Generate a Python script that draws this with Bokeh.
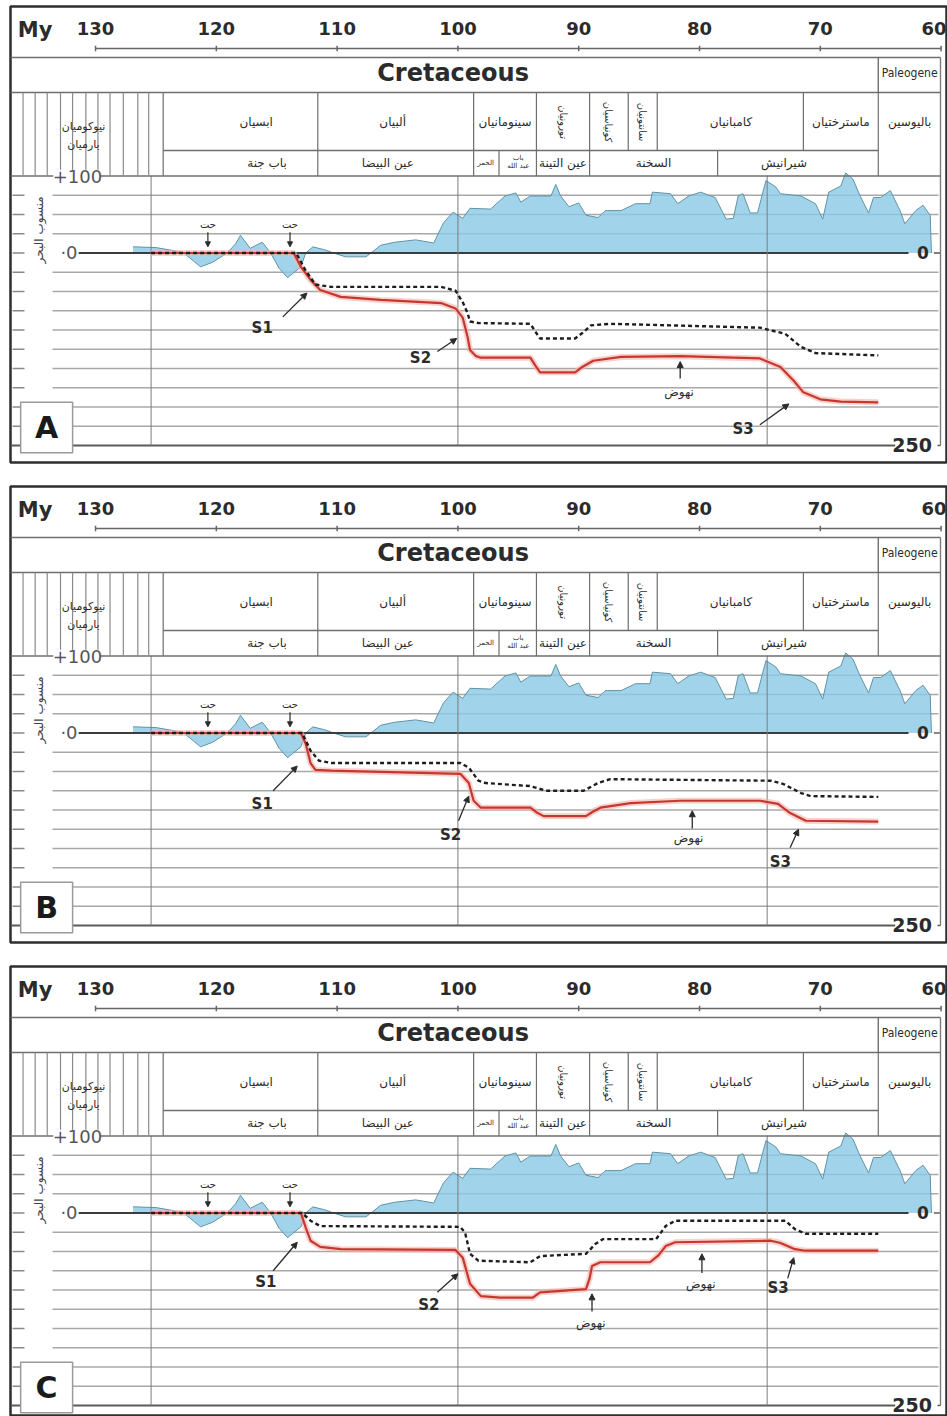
import math
from bokeh.plotting import figure
from bokeh.layouts import column
from bokeh.models import Arrow, NormalHead
from bokeh.embed import file_html
from bokeh.resources import INLINE
from bokeh.core.properties import value

# ---------------- data ----------------
AGE_TICKS = [130, 120, 110, 100, 90, 80, 70, 60]
TICK_LABELS = ["130", "120", "110", "100", "90", "80", "70", "60"]
GRID_LEVELS = [75, 50, 25, -25, -50, -75, -100, -125, -150, -175, -200, -225]

# eustatic sea-level curve (m), same in every panel
SEA_AGE = [126.9, 125.0, 123.5, 122.7, 121.3, 120.3, 119.1, 118.4, 118.0, 117.2, 116.2, 115.5,
           114.8, 114.1, 113.0, 112.6, 112.0, 111.0, 110.3, 109.3, 107.6, 106.4, 105.2, 103.5,
           102.0, 101.2, 100.4, 99.6, 99.0, 97.3, 96.1, 95.2, 94.8, 94.0, 92.3, 91.9, 91.5, 90.8,
           90.0, 89.4, 88.4, 87.8, 86.5, 85.3, 84.1, 83.9, 82.4, 81.8, 80.9, 79.9, 78.7, 77.8,
           77.2, 76.8, 76.4, 75.8, 75.2, 74.5, 73.7, 73.3, 71.6, 70.4, 69.8, 69.3, 68.3, 67.9,
           67.3, 66.7, 66.0, 65.6, 65.0, 64.2, 63.4, 63.0, 62.1, 61.5, 60.9, 60.8]
SEA_LEVEL = [8, 7, 3, 0, -18, -12, 0, 12, 23, 6, 14, 0,
             -20, -32, -18, 0, 8, 4, 0, -5, -5, 10, 14, 17,
             13, 39, 53, 45, 58, 57, 74, 78, 66, 74, 74, 89, 74, 60,
             65, 49, 46, 55, 55, 64, 64, 79, 77, 64, 74, 79, 72, 44,
             45, 74, 77, 52, 52, 94, 86, 77, 74, 64, 44, 79, 87, 104,
             96, 74, 52, 72, 72, 81, 55, 38, 55, 62, 49, 0]

# panel A
RED_A_AGE = [125.4, 113.6, 113.0, 112.2, 111.4, 109.7, 106.4, 101.4, 100.2, 99.6, 99.2, 99.0, 98.5,
             98.1, 94.0, 93.6, 93.2, 90.3, 89.7, 88.8, 86.5, 81.6, 75.0, 73.3, 72.2, 71.4, 70.0,
             68.3, 65.2]
RED_A_VAL = [0, 0, -18, -35, -48, -57, -61, -65, -72, -84, -109, -126, -134,
             -136, -136, -146, -155, -155, -148, -140, -135, -134, -137, -148, -166, -181, -190,
             -193, -194]
DASH_A_AGE = [125.4, 113.4, 112.6, 111.8, 110.5, 101.4, 100.2, 99.6, 99.2, 99.0, 98.3, 94.0, 93.6,
              93.2, 90.3, 89.7, 89.0, 87.4, 75.0, 72.9, 71.6, 70.4, 65.2]
DASH_A_VAL = [0, 0, -23, -41, -44, -44, -49, -64, -78, -89, -91, -92, -102,
              -111, -111, -104, -94, -92, -97, -105, -122, -130, -133]
# panel B
RED_B_AGE = [125.4, 113.0, 112.6, 112.2, 111.8, 110.5, 99.8, 99.1, 98.7, 98.1, 94.0, 93.4, 92.9,
             89.4, 88.8, 88.2, 85.7, 81.6, 75.0, 73.5, 72.5, 71.2, 65.2]
RED_B_VAL = [0, 0, -14, -39, -48, -49, -53, -65, -88, -97, -97, -104, -108,
             -108, -102, -97, -91, -88, -88, -92, -104, -114, -115]
DASH_B_AGE = [125.4, 112.9, 112.2, 111.5, 110.5, 99.8, 99.1, 98.3, 97.7, 94.0, 92.7, 89.6, 88.4,
              87.4, 74.1, 73.1, 71.6, 70.8, 65.2]
DASH_B_VAL = [0, 0, -23, -36, -39, -39, -45, -62, -65, -69, -75, -75, -65,
              -60, -62, -66, -78, -82, -83]
# panel C
RED_C_AGE = [125.4, 113.0, 112.6, 112.2, 111.4, 109.7, 100.2, 99.6, 99.0, 98.1, 96.5, 93.8, 93.2,
             89.4, 89.1, 88.9, 88.2, 84.1, 83.4, 82.8, 82.0, 74.1, 73.3, 72.1, 71.2, 65.2]
RED_C_VAL = [0, 0, -19, -36, -44, -47, -48, -58, -92, -108, -110, -110, -103,
             -99, -85, -69, -64, -64, -55, -43, -38, -36, -39, -47, -49, -49]
DASH_C_AGE = [125.4, 112.9, 112.2, 111.4, 99.8, 99.4, 99.0, 98.3, 94.0, 93.2, 89.4, 88.6, 88.0,
              83.6, 82.8, 82.0, 72.9, 72.1, 71.2, 65.2]
DASH_C_VAL = [0, 0, -10, -17, -18, -26, -53, -62, -64, -56, -53, -40, -34,
              -34, -17, -10, -10, -21, -27, -27]

# chronostratigraphy
ERA_NAMES = ["Cretaceous", "Paleogene"]
ERA_LABEL_AGE = [100.4, 62.6]
KPG_AGE = 65.2
STAGE_NAMES = ["ابسيان", "ألبيان", "سينومانيان", "تورونيان", "كونياسيان", "سانتونيان",
               "كامبانيان", "ماسترختيان", "باليوسين"]
STAGE_LABEL_AGE = [116.7, 105.4, 96.1, 91.3, 87.5, 84.7, 77.4, 68.3, 62.6]
STAGE_VERTICAL = [False, False, False, True, True, True, False, False, False]
EDGES_BOTH_ROWS = [124.4, 111.6, 98.7, 93.5, 89.1, 65.2]
EDGES_STAGE_ROW = [85.9, 83.5, 71.4]
EDGES_FORM_ROW = [96.6, 78.5]
FORM_NAMES = ["باب جنة", "عين البيضا", "عين التينة", "السخنة", "شيرانيش"]
FORM_LABEL_AGE = [115.8, 105.8, 91.3, 83.8, 73.0]
SMALL_FORM_NAMES = ["الحمر", "باب", "عبد الله"]
SMALL_FORM_AGE = [97.7, 95.0, 95.0]
OLD_STAGES = ["نيوكوميان", "بارميان"]
OLD_STAGE_AGE = 131.0
HATCH_AGES = [136.0, 135.0, 134.0, 132.9, 131.9, 130.8, 129.8, 128.8, 127.7, 126.5, 125.6]
CHART_VLINES = [125.4, 100.0, 74.4]
EROSION_AGES = [120.7, 113.9]
EROSION_LABEL = "حت"

# annotations per panel: label, position, arrow start/end
NOTES = {
    "A": dict(text=["S1", "S2", "نهوض", "S3"],
              age=[116.2, 103.1, 81.7, 76.4], val=[-98, -137, -180, -228],
              ax0=[114.5, 101.7, 81.6, 75.0], ay0=[-83, -128, -163, -223],
              ax1=[112.5, 100.1, 81.6, 72.6], ay1=[-52, -111, -141, -196]),
    "B": dict(text=["S1", "S2", "نهوض", "S3"],
              age=[116.2, 100.6, 80.9, 73.3], val=[-92, -133, -137, -168],
              ax0=[115.3, 99.95, 80.6, 72.5], ay0=[-75, -114, -124, -149],
              ax1=[113.3, 99.1, 80.6, 71.8], ay1=[-43, -82, -101, -125]),
    "C": dict(text=["S1", "S2", "نهوض", "نهوض", "S3"],
              age=[115.9, 102.4, 89.0, 79.9, 73.5], val=[-90, -120, -143, -92, -98],
              ax0=[115.3, 101.7, 88.9, 79.8, 72.7], ay0=[-75, -103, -128, -78, -85],
              ax1=[113.3, 100.0, 88.9, 79.8, 72.2], ay1=[-38, -79, -105, -53, -58]),
}

# ---------------- layout constants (age / metre units) ----------------
X_LEFT, X_RIGHT = 137.04, 59.47
X_INNER_RIGHT = 60.05
Y_TOP = 320.1
V_TICKLBL, V_AXIS = 291.6, 265.6
V_ERA_TOP, V_ERA_BOT, V_ROW_MID, V_TOP = 253.9, 208.4, 133.1, 100.0
V_ERA_TXT, V_STAGE_TXT, V_FORM_TXT = 233.1, 170.0, 116.5

LAT = value("DejaVu Sans")
AR = value("DejaVu Sans")
DARK = "#2b2b2b"
LINE = "#6e6e6e"


def make_panel(letter, red_age, red_val, dash_age, dash_val, frame_h, y_bottom, top_pad, bot_pad):
    p = figure(width=947, height=frame_h + top_pad + bot_pad,
               x_range=(X_LEFT, X_RIGHT), y_range=(y_bottom, Y_TOP),
               output_backend="svg", toolbar_location=None, x_axis_location=None,
               y_axis_location=None, min_border_left=10, min_border_right=0,
               min_border_top=top_pad, min_border_bottom=bot_pad)
    p.grid.grid_line_color = None
    p.outline_line_color = "#2e2e2e"
    p.outline_line_width = 2.5
    p.background_fill_color = "white"
    p.border_fill_color = "white"

    # ---- chart area grid ----
    n = len(GRID_LEVELS)
    p.segment(x0=[133.56] * n, y0=GRID_LEVELS, x1=[60.22] * n, y1=GRID_LEVELS,
              line_color="#a8a8a8", line_width=1.4)
    stubs = GRID_LEVELS + [0]
    p.segment(x0=[136.87] * len(stubs), y0=stubs, x1=[135.88] * len(stubs), y1=stubs,
              line_color="#8a8a8a", line_width=1.4)

    # ---- sea level ----
    p.varea(x=SEA_AGE, y1=0, y2=SEA_LEVEL, fill_color="#8ccbe5", fill_alpha=0.82)
    p.line(SEA_AGE, SEA_LEVEL, line_color="#5f93a6", line_width=1)

    # zero and bottom line
    p.segment(x0=[131.4], y0=[0], x1=[62.7], y1=[0], line_color="#3c3c3c", line_width=2)
    p.segment(x0=[60.6], y0=[0], x1=[60.05], y1=[0], line_color="#555", line_width=1.4)
    p.segment(x0=[137.04], y0=[-250], x1=[63.8], y1=[-250], line_color="#5a5a5a", line_width=2)
    p.segment(x0=[60.3], y0=[-250], x1=[60.05], y1=[-250], line_color="#555", line_width=1.4)

    # vertical chart lines and inner right border
    k = len(CHART_VLINES)
    p.segment(x0=CHART_VLINES, y0=[V_TOP] * k, x1=CHART_VLINES, y1=[-250] * k,
              line_color="#7c7c7c", line_width=1)
    p.segment(x0=[X_INNER_RIGHT], y0=[V_ERA_TOP], x1=[X_INNER_RIGHT], y1=[-250],
              line_color="#7c7c7c", line_width=1.4)

    # ---- subsidence curves ----
    p.line(red_age, red_val, line_color="#f3b3aa", line_width=6, line_alpha=0.6)
    p.line(red_age, red_val, line_color="#c8372f", line_width=2.2)
    p.line(dash_age, dash_val, line_color="#1e1e1e", line_width=2.4, line_dash="4 3")

    # ---- erosion marks ----
    ne = len(EROSION_AGES)
    p.text(x=EROSION_AGES, y=[37] * ne, text=[EROSION_LABEL] * ne, text_font=AR,
           text_font_size="10px", text_color=DARK, text_align="center", text_baseline="middle")
    for a in EROSION_AGES:
        p.add_layout(Arrow(end=NormalHead(size=5, fill_color=DARK, line_color=DARK),
                           x_start=a, y_start=27, x_end=a, y_end=8,
                           line_color=DARK, line_width=1.2))

    # ---- annotations ----
    nt = NOTES[letter]
    is_ar = [t == "نهوض" for t in nt["text"]]
    lat_idx = [i for i, f in enumerate(is_ar) if not f]
    ar_idx = [i for i, f in enumerate(is_ar) if f]
    p.text(x=[nt["age"][i] for i in lat_idx], y=[nt["val"][i] for i in lat_idx],
           text=[nt["text"][i] for i in lat_idx], text_font=LAT, text_font_style="bold",
           text_font_size="15px", text_color=DARK, text_align="center", text_baseline="middle")
    p.text(x=[nt["age"][i] for i in ar_idx], y=[nt["val"][i] for i in ar_idx],
           text=[nt["text"][i] for i in ar_idx], text_font=AR,
           text_font_size="12px", text_color=DARK, text_align="center", text_baseline="middle")
    for i in range(len(nt["text"])):
        p.add_layout(Arrow(end=NormalHead(size=6, fill_color=DARK, line_color=DARK),
                           x_start=nt["ax0"][i], y_start=nt["ay0"][i],
                           x_end=nt["ax1"][i], y_end=nt["ay1"][i],
                           line_color=DARK, line_width=1.3))

    # panel letter box
    p.quad(left=[136.2], right=[131.9], top=[-194], bottom=[-259.5], fill_color="white",
           line_color="#9a9a9a", line_width=1.5)
    p.text(x=[134.05], y=[-227], text=[letter], text_font=LAT, text_font_style="bold",
           text_font_size="30px", text_color="#1a1a1a", text_align="center", text_baseline="middle")

    # ---- axis-style labels on the chart ----
    p.text(x=[62.4], y=[-250], text=["250"], text_font=LAT, text_font_style="bold",
           text_font_size="19px", text_color=DARK, text_align="center", text_baseline="middle")
    p.text(x=[61.5], y=[0], text=["0"], text_font=LAT, text_font_style="bold",
           text_font_size="17px", text_color=DARK, text_align="center", text_baseline="middle")
    p.text(x=[132.2], y=[0], text=["·0"], text_font=LAT,
           text_font_size="18px", text_color="#555", text_align="center", text_baseline="middle")
    p.text(x=[134.7], y=[30], text=["منسوب البحر"], text_font=AR, angle=math.pi / 2,
           text_font_size="12px", text_color="#444", text_align="center", text_baseline="middle")

    # ---- header: time axis ----
    p.segment(x0=[130], y0=[V_AXIS], x1=[60], y1=[V_AXIS], line_color="#666", line_width=1.5)
    nk = len(AGE_TICKS)
    p.segment(x0=AGE_TICKS, y0=[V_AXIS - 3.5] * nk, x1=AGE_TICKS, y1=[V_AXIS + 3.5] * nk,
              line_color="#666", line_width=1.5)
    p.text(x=AGE_TICKS[:-1], y=[V_TICKLBL] * (nk - 1), text=TICK_LABELS[:-1], text_font=LAT,
           text_font_style="bold", text_font_size="18px", text_color=DARK,
           text_align="center", text_baseline="middle")
    p.text(x=[X_RIGHT], y=[V_TICKLBL], text=[TICK_LABELS[-1]], text_font=LAT,
           text_font_style="bold", text_font_size="18px", text_color=DARK,
           text_align="right", text_baseline="middle", x_offset=-1)
    p.text(x=[135.0], y=[289], text=["My"], text_font=LAT, text_font_style="bold",
           text_font_size="21px", text_color=DARK, text_align="center", text_baseline="middle")

    # ---- header: era / stage / formation table ----
    p.segment(x0=[X_LEFT, X_LEFT, 124.4, X_LEFT], y0=[V_ERA_TOP, V_ERA_BOT, V_ROW_MID, V_TOP],
              x1=[X_INNER_RIGHT, X_INNER_RIGHT, KPG_AGE, X_INNER_RIGHT],
              y1=[V_ERA_TOP, V_ERA_BOT, V_ROW_MID, V_TOP],
              line_color=LINE, line_width=1.4)
    p.segment(x0=[KPG_AGE], y0=[V_ERA_TOP], x1=[KPG_AGE], y1=[V_ERA_BOT],
              line_color=LINE, line_width=1.4)
    nb = len(EDGES_BOTH_ROWS)
    p.segment(x0=EDGES_BOTH_ROWS, y0=[V_ERA_BOT] * nb, x1=EDGES_BOTH_ROWS, y1=[V_TOP] * nb,
              line_color=LINE, line_width=1.2)
    ns = len(EDGES_STAGE_ROW)
    p.segment(x0=EDGES_STAGE_ROW, y0=[V_ERA_BOT] * ns, x1=EDGES_STAGE_ROW, y1=[V_ROW_MID] * ns,
              line_color=LINE, line_width=1.2)
    nf = len(EDGES_FORM_ROW)
    p.segment(x0=EDGES_FORM_ROW, y0=[V_ROW_MID] * nf, x1=EDGES_FORM_ROW, y1=[V_TOP] * nf,
              line_color=LINE, line_width=1.2)
    nh = len(HATCH_AGES)
    p.segment(x0=HATCH_AGES, y0=[V_ERA_BOT] * nh, x1=HATCH_AGES, y1=[V_TOP] * nh,
              line_color="#8a8a8a", line_width=1.2)

    p.text(x=[ERA_LABEL_AGE[0]], y=[V_ERA_TXT], text=[ERA_NAMES[0]], text_font=LAT,
           text_font_style="bold", text_font_size="24px", text_color=DARK,
           text_align="center", text_baseline="middle")
    p.text(x=[ERA_LABEL_AGE[1]], y=[V_ERA_TXT], text=[ERA_NAMES[1]],
           text_font=value("DejaVu Sans Condensed"), text_font_size="12px", text_color=DARK,
           text_align="center", text_baseline="middle")

    hx = [STAGE_LABEL_AGE[i] for i in range(len(STAGE_NAMES)) if not STAGE_VERTICAL[i]]
    ht = [STAGE_NAMES[i] for i in range(len(STAGE_NAMES)) if not STAGE_VERTICAL[i]]
    p.text(x=hx, y=[V_STAGE_TXT] * len(hx), text=ht, text_font=AR, text_font_size="12px",
           text_color=DARK, text_align="center", text_baseline="middle")
    vx = [STAGE_LABEL_AGE[i] for i in range(len(STAGE_NAMES)) if STAGE_VERTICAL[i]]
    vt = [STAGE_NAMES[i] for i in range(len(STAGE_NAMES)) if STAGE_VERTICAL[i]]
    p.text(x=vx, y=[V_STAGE_TXT] * len(vx), text=vt, text_font=AR, text_font_size="10px",
           angle=-math.pi / 2, text_color=DARK, text_align="center", text_baseline="middle")

    p.text(x=FORM_LABEL_AGE, y=[V_FORM_TXT] * len(FORM_LABEL_AGE), text=FORM_NAMES,
           text_font=AR, text_font_size="12px", text_color=DARK,
           text_align="center", text_baseline="middle")
    p.text(x=SMALL_FORM_AGE, y=[V_FORM_TXT, 123, 113], text=SMALL_FORM_NAMES, text_font=AR,
           text_font_size="7px", text_color=DARK, text_align="center", text_baseline="middle")

    p.text(x=[OLD_STAGE_AGE, OLD_STAGE_AGE], y=[164, 141], text=OLD_STAGES, text_font=AR,
           text_font_size="11px", text_color=DARK, text_align="center", text_baseline="middle")

    # +100 label over the table base line
    p.quad(left=[133.5], right=[129.6], top=[108], bottom=[90], fill_color="white",
           line_color=None)
    p.text(x=[131.5], y=[99], text=["+100"], text_font=LAT, text_font_size="18px",
           text_color="#555", text_align="center", text_baseline="middle")
    return p


pA = make_panel("A", RED_A_AGE, RED_A_VAL, DASH_A_AGE, DASH_A_VAL, 456, -272.1, 6, 12)
pB = make_panel("B", RED_B_AGE, RED_B_VAL, DASH_B_AGE, DASH_B_VAL, 456, -272.1, 12, 12)
pC = make_panel("C", RED_C_AGE, RED_C_VAL, DASH_C_AGE, DASH_C_VAL, 450, -264.3, 12, 0)

layout = column(pA, pB, pC)
open("out.html", "w").write(file_html(layout, INLINE))
